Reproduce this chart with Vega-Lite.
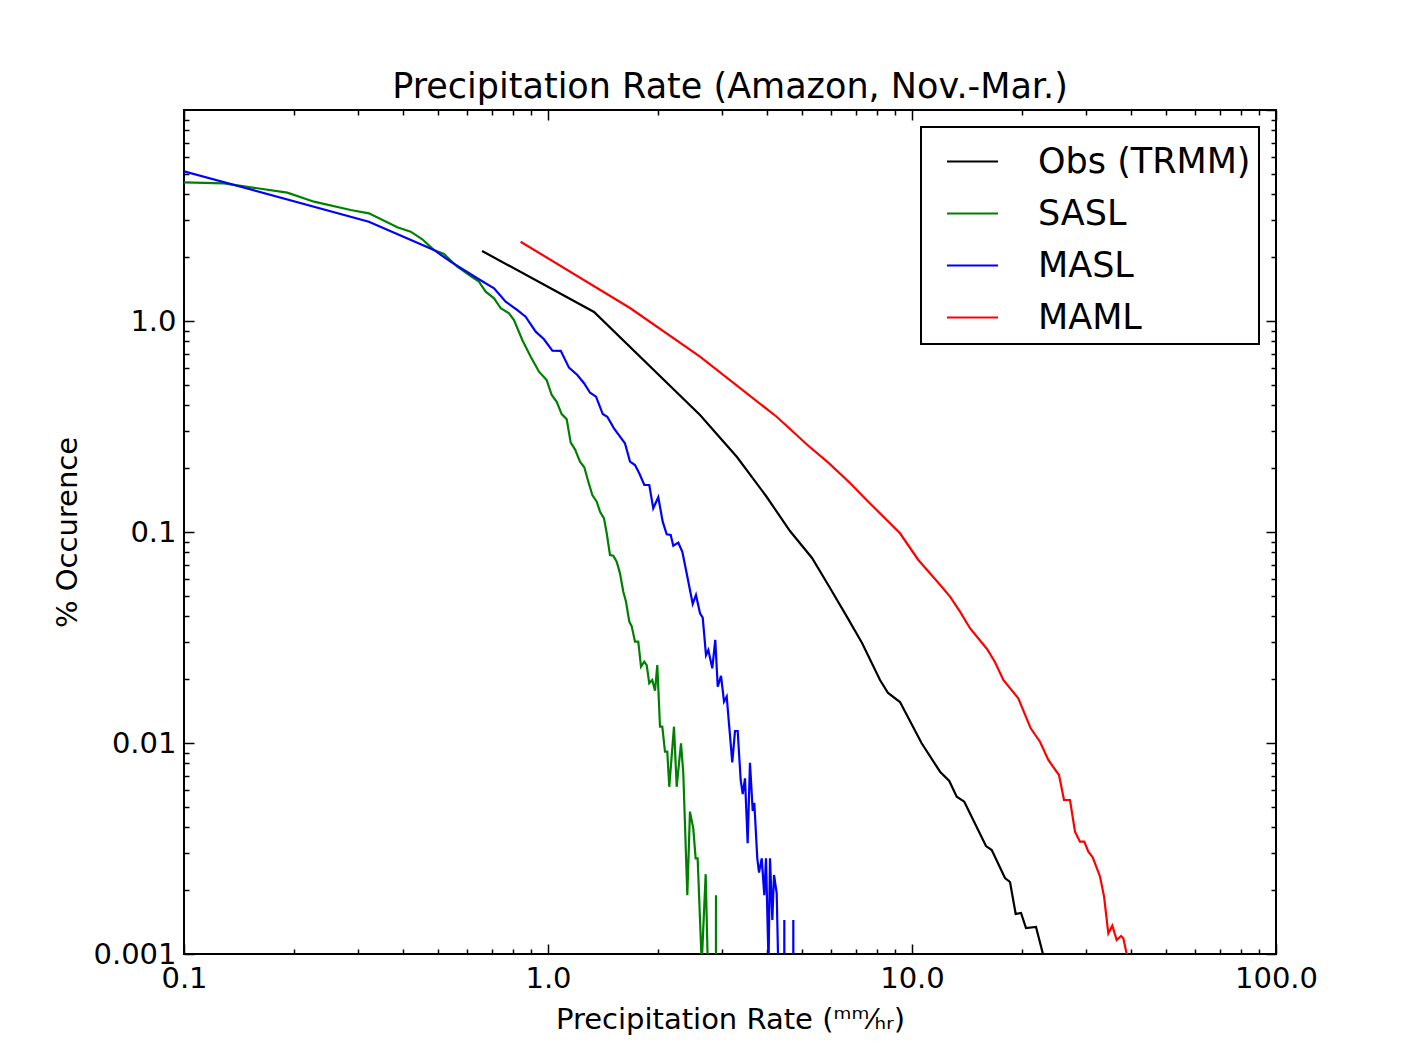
{
  "$schema": "https://vega.github.io/schema/vega-lite/v6.json",
  "width": 1092,
  "height": 844,
  "autosize": {"type": "none"},
  "padding": {"left": 184, "top": 110, "right": 132, "bottom": 104},
  "background": "white",
  "title": {"text": "Precipitation Rate (Amazon, Nov.-Mar.)", "fontSize": 35, "font": "DejaVu Sans", "fontWeight": "normal", "color": "black", "anchor": "middle", "frame": "group", "baseline": "alphabetic", "offset": -24},
  "data": {"values": [
    {"series": "Obs (TRMM)", "rate": 0.659, "pct": 2.147},
    {"series": "Obs (TRMM)", "rate": 1.338, "pct": 1.103},
    {"series": "Obs (TRMM)", "rate": 2.616, "pct": 0.3584},
    {"series": "Obs (TRMM)", "rate": 3.305, "pct": 0.2267},
    {"series": "Obs (TRMM)", "rate": 3.972, "pct": 0.1481},
    {"series": "Obs (TRMM)", "rate": 4.622, "pct": 0.1011},
    {"series": "Obs (TRMM)", "rate": 5.313, "pct": 0.0753},
    {"series": "Obs (TRMM)", "rate": 5.954, "pct": 0.0543},
    {"series": "Obs (TRMM)", "rate": 6.628, "pct": 0.0396},
    {"series": "Obs (TRMM)", "rate": 7.29, "pct": 0.0298},
    {"series": "Obs (TRMM)", "rate": 8.168, "pct": 0.01989},
    {"series": "Obs (TRMM)", "rate": 8.595, "pct": 0.01726},
    {"series": "Obs (TRMM)", "rate": 9.269, "pct": 0.01564},
    {"series": "Obs (TRMM)", "rate": 10.63, "pct": 0.00997},
    {"series": "Obs (TRMM)", "rate": 11.94, "pct": 0.00731},
    {"series": "Obs (TRMM)", "rate": 12.66, "pct": 0.00661},
    {"series": "Obs (TRMM)", "rate": 13.27, "pct": 0.00556},
    {"series": "Obs (TRMM)", "rate": 13.92, "pct": 0.00527},
    {"series": "Obs (TRMM)", "rate": 15.97, "pct": 0.003248},
    {"series": "Obs (TRMM)", "rate": 16.56, "pct": 0.003111},
    {"series": "Obs (TRMM)", "rate": 18.01, "pct": 0.002292},
    {"series": "Obs (TRMM)", "rate": 18.59, "pct": 0.002194},
    {"series": "Obs (TRMM)", "rate": 19.27, "pct": 0.001547},
    {"series": "Obs (TRMM)", "rate": 19.93, "pct": 0.001564},
    {"series": "Obs (TRMM)", "rate": 20.57, "pct": 0.001328},
    {"series": "Obs (TRMM)", "rate": 21.91, "pct": 0.001343},
    {"series": "Obs (TRMM)", "rate": 23.34, "pct": 0.00088},
    {"series": "SASL", "rate": 0.1, "pct": 4.542},
    {"series": "SASL", "rate": 0.1288, "pct": 4.493},
    {"series": "SASL", "rate": 0.1922, "pct": 4.056},
    {"series": "SASL", "rate": 0.2276, "pct": 3.677},
    {"series": "SASL", "rate": 0.2871, "pct": 3.358},
    {"series": "SASL", "rate": 0.3222, "pct": 3.239},
    {"series": "SASL", "rate": 0.3855, "pct": 2.781},
    {"series": "SASL", "rate": 0.4196, "pct": 2.65},
    {"series": "SASL", "rate": 0.4516, "pct": 2.439},
    {"series": "SASL", "rate": 0.4862, "pct": 2.171},
    {"series": "SASL", "rate": 0.518, "pct": 2.077},
    {"series": "SASL", "rate": 0.5633, "pct": 1.808},
    {"series": "SASL", "rate": 0.6133, "pct": 1.634},
    {"series": "SASL", "rate": 0.6462, "pct": 1.536},
    {"series": "SASL", "rate": 0.6743, "pct": 1.377},
    {"series": "SASL", "rate": 0.7108, "pct": 1.281},
    {"series": "SASL", "rate": 0.7416, "pct": 1.149},
    {"series": "SASL", "rate": 0.7815, "pct": 1.088},
    {"series": "SASL", "rate": 0.8065, "pct": 1.011},
    {"series": "SASL", "rate": 0.85, "pct": 0.813},
    {"series": "SASL", "rate": 0.8964, "pct": 0.677},
    {"series": "SASL", "rate": 0.9447, "pct": 0.575},
    {"series": "SASL", "rate": 0.9917, "pct": 0.525},
    {"series": "SASL", "rate": 1.0238, "pct": 0.446},
    {"series": "SASL", "rate": 1.0566, "pct": 0.414},
    {"series": "SASL", "rate": 1.0905, "pct": 0.362},
    {"series": "SASL", "rate": 1.1256, "pct": 0.342},
    {"series": "SASL", "rate": 1.1545, "pct": 0.265},
    {"series": "SASL", "rate": 1.1863, "pct": 0.2465},
    {"series": "SASL", "rate": 1.2244, "pct": 0.2155},
    {"series": "SASL", "rate": 1.2581, "pct": 0.2026},
    {"series": "SASL", "rate": 1.2906, "pct": 0.1731},
    {"series": "SASL", "rate": 1.3237, "pct": 0.1497},
    {"series": "SASL", "rate": 1.361, "pct": 0.1392},
    {"series": "SASL", "rate": 1.3898, "pct": 0.1248},
    {"series": "SASL", "rate": 1.425, "pct": 0.1161},
    {"series": "SASL", "rate": 1.4498, "pct": 0.0986},
    {"series": "SASL", "rate": 1.4802, "pct": 0.0778},
    {"series": "SASL", "rate": 1.5115, "pct": 0.0772},
    {"series": "SASL", "rate": 1.5442, "pct": 0.0723},
    {"series": "SASL", "rate": 1.5768, "pct": 0.0637},
    {"series": "SASL", "rate": 1.6103, "pct": 0.0521},
    {"series": "SASL", "rate": 1.638, "pct": 0.0467},
    {"series": "SASL", "rate": 1.6725, "pct": 0.0376},
    {"series": "SASL", "rate": 1.6977, "pct": 0.0358},
    {"series": "SASL", "rate": 1.7338, "pct": 0.0302},
    {"series": "SASL", "rate": 1.7701, "pct": 0.0302},
    {"series": "SASL", "rate": 1.8009, "pct": 0.023},
    {"series": "SASL", "rate": 1.8386, "pct": 0.0243},
    {"series": "SASL", "rate": 1.8668, "pct": 0.0234},
    {"series": "SASL", "rate": 1.8975, "pct": 0.0192},
    {"series": "SASL", "rate": 1.9337, "pct": 0.0199},
    {"series": "SASL", "rate": 1.9679, "pct": 0.0177},
    {"series": "SASL", "rate": 1.9966, "pct": 0.0234},
    {"series": "SASL", "rate": 2.0309, "pct": 0.01195},
    {"series": "SASL", "rate": 2.0606, "pct": 0.01195},
    {"series": "SASL", "rate": 2.096, "pct": 0.0091},
    {"series": "SASL", "rate": 2.1266, "pct": 0.0091},
    {"series": "SASL", "rate": 2.1536, "pct": 0.0062},
    {"series": "SASL", "rate": 2.219, "pct": 0.01195},
    {"series": "SASL", "rate": 2.2571, "pct": 0.0062},
    {"series": "SASL", "rate": 2.3195, "pct": 0.00997},
    {"series": "SASL", "rate": 2.3534, "pct": 0.00719},
    {"series": "SASL", "rate": 2.414, "pct": 0.0019},
    {"series": "SASL", "rate": 2.4548, "pct": 0.00473},
    {"series": "SASL", "rate": 2.5066, "pct": 0.00394},
    {"series": "SASL", "rate": 2.5447, "pct": 0.00284},
    {"series": "SASL", "rate": 2.5771, "pct": 0.00284},
    {"series": "SASL", "rate": 2.6443, "pct": 0.0009},
    {"series": "SASL", "rate": 2.7114, "pct": 0.00239},
    {"series": "SASL", "rate": 2.7688, "pct": 0.0005},
    {"series": "SASL", "rate": 2.849, "pct": 1e-20},
    {"series": "SASL", "rate": 2.8943, "pct": 0.0019},
    {"series": "SASL", "rate": 2.941, "pct": 1e-20},
    {"series": "MASL", "rate": 0.1, "pct": 5.123},
    {"series": "MASL", "rate": 0.322, "pct": 2.955},
    {"series": "MASL", "rate": 0.486, "pct": 2.171},
    {"series": "MASL", "rate": 0.54, "pct": 1.91},
    {"series": "MASL", "rate": 0.639, "pct": 1.594},
    {"series": "MASL", "rate": 0.711, "pct": 1.429},
    {"series": "MASL", "rate": 0.765, "pct": 1.235},
    {"series": "MASL", "rate": 0.824, "pct": 1.127},
    {"series": "MASL", "rate": 0.868, "pct": 1.048},
    {"series": "MASL", "rate": 0.925, "pct": 0.89},
    {"series": "MASL", "rate": 0.975, "pct": 0.819},
    {"series": "MASL", "rate": 1.028, "pct": 0.723},
    {"series": "MASL", "rate": 1.084, "pct": 0.722},
    {"series": "MASL", "rate": 1.142, "pct": 0.601},
    {"series": "MASL", "rate": 1.204, "pct": 0.555},
    {"series": "MASL", "rate": 1.256, "pct": 0.507},
    {"series": "MASL", "rate": 1.305, "pct": 0.457},
    {"series": "MASL", "rate": 1.355, "pct": 0.438},
    {"series": "MASL", "rate": 1.414, "pct": 0.3623},
    {"series": "MASL", "rate": 1.455, "pct": 0.3518},
    {"series": "MASL", "rate": 1.518, "pct": 0.3101},
    {"series": "MASL", "rate": 1.577, "pct": 0.2829},
    {"series": "MASL", "rate": 1.627, "pct": 0.2633},
    {"series": "MASL", "rate": 1.68, "pct": 0.2155},
    {"series": "MASL", "rate": 1.734, "pct": 0.2078},
    {"series": "MASL", "rate": 1.781, "pct": 0.1897},
    {"series": "MASL", "rate": 1.839, "pct": 0.167},
    {"series": "MASL", "rate": 1.898, "pct": 0.167},
    {"series": "MASL", "rate": 1.946, "pct": 0.1295},
    {"series": "MASL", "rate": 2.009, "pct": 0.1461},
    {"series": "MASL", "rate": 2.066, "pct": 0.1119},
    {"series": "MASL", "rate": 2.119, "pct": 0.0975},
    {"series": "MASL", "rate": 2.173, "pct": 0.0968},
    {"series": "MASL", "rate": 2.209, "pct": 0.0861},
    {"series": "MASL", "rate": 2.28, "pct": 0.089},
    {"series": "MASL", "rate": 2.339, "pct": 0.0806},
    {"series": "MASL", "rate": 2.404, "pct": 0.0637},
    {"series": "MASL", "rate": 2.498, "pct": 0.0456},
    {"series": "MASL", "rate": 2.55, "pct": 0.0503},
    {"series": "MASL", "rate": 2.616, "pct": 0.0412},
    {"series": "MASL", "rate": 2.661, "pct": 0.0393},
    {"series": "MASL", "rate": 2.717, "pct": 0.0261},
    {"series": "MASL", "rate": 2.757, "pct": 0.0276},
    {"series": "MASL", "rate": 2.827, "pct": 0.0226},
    {"series": "MASL", "rate": 2.881, "pct": 0.0308},
    {"series": "MASL", "rate": 2.926, "pct": 0.0185},
    {"series": "MASL", "rate": 2.988, "pct": 0.0208},
    {"series": "MASL", "rate": 3.045, "pct": 0.0157},
    {"series": "MASL", "rate": 3.097, "pct": 0.0166},
    {"series": "MASL", "rate": 3.208, "pct": 0.0081},
    {"series": "MASL", "rate": 3.264, "pct": 0.0114},
    {"series": "MASL", "rate": 3.32, "pct": 0.0114},
    {"series": "MASL", "rate": 3.383, "pct": 0.00668},
    {"series": "MASL", "rate": 3.427, "pct": 0.00573},
    {"series": "MASL", "rate": 3.477, "pct": 0.0068},
    {"series": "MASL", "rate": 3.536, "pct": 0.00335},
    {"series": "MASL", "rate": 3.588, "pct": 0.00806},
    {"series": "MASL", "rate": 3.651, "pct": 0.00476},
    {"series": "MASL", "rate": 3.688, "pct": 0.00521},
    {"series": "MASL", "rate": 3.758, "pct": 0.00284},
    {"series": "MASL", "rate": 3.799, "pct": 0.00243},
    {"series": "MASL", "rate": 3.865, "pct": 0.00284},
    {"series": "MASL", "rate": 3.928, "pct": 0.0019},
    {"series": "MASL", "rate": 3.971, "pct": 0.00284},
    {"series": "MASL", "rate": 4.035, "pct": 0.00091},
    {"series": "MASL", "rate": 4.073, "pct": 0.00284},
    {"series": "MASL", "rate": 4.133, "pct": 0.00145},
    {"series": "MASL", "rate": 4.178, "pct": 0.00237},
    {"series": "MASL", "rate": 4.249, "pct": 0.00194},
    {"series": "MASL", "rate": 4.312, "pct": 0.0006},
    {"series": "MASL", "rate": 4.38, "pct": 1e-20},
    {"series": "MASL", "rate": 4.459, "pct": 0.00145},
    {"series": "MASL", "rate": 4.529, "pct": 1e-20},
    {"series": "MASL", "rate": 4.652, "pct": 1e-20},
    {"series": "MASL", "rate": 4.72, "pct": 0.00145},
    {"series": "MASL", "rate": 4.795, "pct": 1e-20},
    {"series": "MAML", "rate": 0.841, "pct": 2.376},
    {"series": "MAML", "rate": 1.68, "pct": 1.152},
    {"series": "MAML", "rate": 2.616, "pct": 0.6772},
    {"series": "MAML", "rate": 4.249, "pct": 0.3518},
    {"series": "MAML", "rate": 5.19, "pct": 0.2564},
    {"series": "MAML", "rate": 5.89, "pct": 0.2131},
    {"series": "MAML", "rate": 6.756, "pct": 0.1707},
    {"series": "MAML", "rate": 7.584, "pct": 0.1392},
    {"series": "MAML", "rate": 9.269, "pct": 0.0986},
    {"series": "MAML", "rate": 10.41, "pct": 0.0737},
    {"series": "MAML", "rate": 11.81, "pct": 0.0575},
    {"series": "MAML", "rate": 12.72, "pct": 0.0494},
    {"series": "MAML", "rate": 13.55, "pct": 0.0419},
    {"series": "MAML", "rate": 14.43, "pct": 0.035},
    {"series": "MAML", "rate": 16.07, "pct": 0.0279},
    {"series": "MAML", "rate": 16.9, "pct": 0.0242},
    {"series": "MAML", "rate": 17.82, "pct": 0.0199},
    {"series": "MAML", "rate": 19.59, "pct": 0.01628},
    {"series": "MAML", "rate": 21.19, "pct": 0.01174},
    {"series": "MAML", "rate": 22.47, "pct": 0.01014},
    {"series": "MAML", "rate": 23.69, "pct": 0.00831},
    {"series": "MAML", "rate": 25.34, "pct": 0.00705},
    {"series": "MAML", "rate": 26.16, "pct": 0.00537},
    {"series": "MAML", "rate": 27.17, "pct": 0.00537},
    {"series": "MAML", "rate": 28.04, "pct": 0.0038},
    {"series": "MAML", "rate": 28.94, "pct": 0.003406},
    {"series": "MAML", "rate": 29.74, "pct": 0.003406},
    {"series": "MAML", "rate": 30.51, "pct": 0.003053},
    {"series": "MAML", "rate": 31.36, "pct": 0.002873},
    {"series": "MAML", "rate": 32.86, "pct": 0.002325},
    {"series": "MAML", "rate": 33.7, "pct": 0.00187},
    {"series": "MAML", "rate": 34.62, "pct": 0.001253},
    {"series": "MAML", "rate": 35.51, "pct": 0.001362},
    {"series": "MAML", "rate": 36.51, "pct": 0.001165},
    {"series": "MAML", "rate": 37.52, "pct": 0.001217},
    {"series": "MAML", "rate": 38.07, "pct": 0.001187},
    {"series": "MAML", "rate": 39.21, "pct": 0.000937}
  ]},
  "layer": [
    {
      "mark": {"type": "line", "strokeWidth": 2.2, "clip": true},
      "encoding": {
        "x": {"field": "rate", "type": "quantitative", "scale": {"type": "log", "domain": [0.1, 100], "nice": false},
          "axis": {"orient": "bottom", "values": [0.1, 1, 10, 100], "tickSize": -10, "labelPadding": 20, "labelExpr": "format(datum.value, '.1f')", "title": "Precipitation Rate (ᵐᵐ⁄ₕᵣ)", "titlePadding": 12}},
        "y": {"field": "pct", "type": "quantitative", "scale": {"type": "log", "domain": [0.001, 10], "nice": false},
          "axis": {"orient": "left", "values": [0.001, 0.01, 0.1, 1], "tickSize": -10, "labelPadding": 18, "labelExpr": "datum.value >= 1 ? format(datum.value, '.1f') : '' + datum.value", "title": "% Occurence", "titlePadding": 10}},
        "color": {"field": "series", "type": "nominal",
          "scale": {"domain": ["Obs (TRMM)", "SASL", "MASL", "MAML"], "range": ["#000000", "#008000", "#0000ff", "#ff0000"]},
          "legend": {"title": null, "orient": "top-right", "offset": 17, "padding": 8, "fillColor": "white", "strokeColor": "black", "symbolType": "stroke", "symbolSize": 2601, "symbolStrokeWidth": 2, "symbolOffset": 17, "labelFontSize": 35, "labelFont": "DejaVu Sans", "labelColor": "black", "labelOffset": 39, "rowPadding": 7, "labelLimit": 400}}
      }
    },
    {
      "mark": {"type": "point", "opacity": 0},
      "encoding": {
        "x": {"field": "rate", "type": "quantitative", "scale": {"type": "log", "domain": [0.1, 100], "nice": false},
          "axis": {"orient": "top", "values": [0.1, 1, 10, 100], "tickSize": -10, "labels": false, "title": null}},
        "y": {"field": "pct", "type": "quantitative", "scale": {"type": "log", "domain": [0.001, 10], "nice": false},
          "axis": {"orient": "right", "values": [0.001, 0.01, 0.1, 1, 10], "tickSize": -10, "labels": false, "title": null}}
      }
    },
    {
      "mark": {"type": "point", "opacity": 0},
      "encoding": {
        "x": {"field": "rate", "type": "quantitative", "scale": {"type": "log", "domain": [0.1, 100], "nice": false},
          "axis": {"orient": "bottom", "values": [0.2, 0.3, 0.4, 0.5, 0.6, 0.7, 0.8, 0.9, 2, 3, 4, 5, 6, 7, 8, 9, 20, 30, 40, 50, 60, 70, 80, 90], "tickSize": -5, "labels": false, "title": null}},
        "y": {"field": "pct", "type": "quantitative", "scale": {"type": "log", "domain": [0.001, 10], "nice": false},
          "axis": {"orient": "left", "values": [0.002, 0.003, 0.004, 0.005, 0.006, 0.007, 0.008, 0.009, 0.02, 0.03, 0.04, 0.05, 0.06, 0.07, 0.08, 0.09, 0.2, 0.3, 0.4, 0.5, 0.6, 0.7, 0.8, 0.9, 2, 3, 4, 5, 6, 7, 8, 9], "tickSize": -5, "labels": false, "title": null}}
      }
    },
    {
      "mark": {"type": "point", "opacity": 0},
      "encoding": {
        "x": {"field": "rate", "type": "quantitative", "scale": {"type": "log", "domain": [0.1, 100], "nice": false},
          "axis": {"orient": "top", "values": [0.2, 0.3, 0.4, 0.5, 0.6, 0.7, 0.8, 0.9, 2, 3, 4, 5, 6, 7, 8, 9, 20, 30, 40, 50, 60, 70, 80, 90], "tickSize": -5, "labels": false, "title": null}},
        "y": {"field": "pct", "type": "quantitative", "scale": {"type": "log", "domain": [0.001, 10], "nice": false},
          "axis": {"orient": "right", "values": [0.002, 0.003, 0.004, 0.005, 0.006, 0.007, 0.008, 0.009, 0.02, 0.03, 0.04, 0.05, 0.06, 0.07, 0.08, 0.09, 0.2, 0.3, 0.4, 0.5, 0.6, 0.7, 0.8, 0.9, 2, 3, 4, 5, 6, 7, 8, 9], "tickSize": -5, "labels": false, "title": null}}
      }
    }
  ],
  "resolve": {"axis": {"x": "independent", "y": "independent"}},
  "config": {
    "view": {"stroke": "black", "strokeWidth": 2},
    "legend": {"strokeWidth": 2},
    "axis": {"labelFont": "DejaVu Sans", "titleFont": "DejaVu Sans", "labelColor": "black", "titleColor": "black", "tickColor": "black", "tickWidth": 1.5, "domain": false, "grid": false, "labelFlush": false, "labelOverlap": false, "labelBound": false, "titleFontWeight": "normal", "labelFontSize": 29, "titleFontSize": 29}
  }
}
